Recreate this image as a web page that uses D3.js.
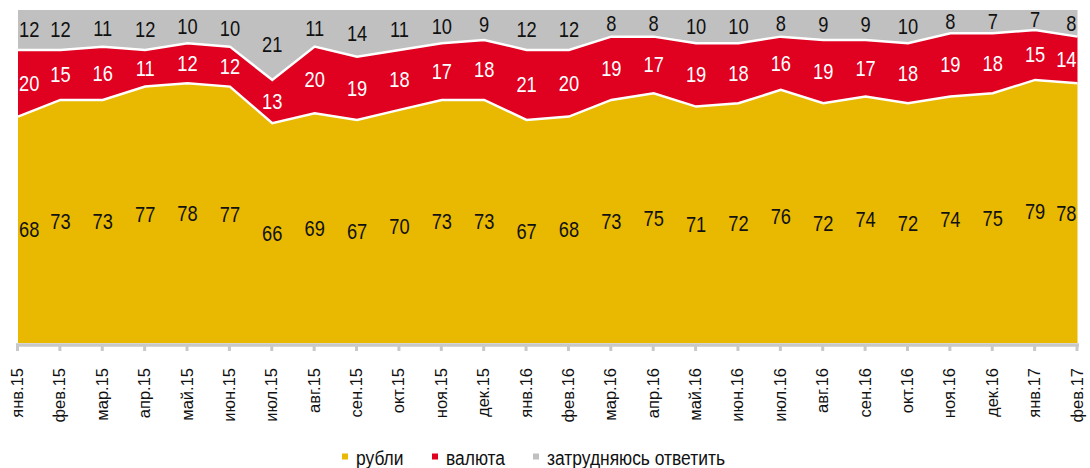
<!DOCTYPE html>
<html><head><meta charset="utf-8">
<script src="https://cdn.jsdelivr.net/npm/d3@7"></script>
<style>
body{margin:0;background:#fff;}
svg{display:block;}
.lbl{font-family:"Liberation Sans",Arial,sans-serif;font-size:21.5px;}
.ax{font-family:"Liberation Sans",Arial,sans-serif;font-size:16.5px;fill:#111;}
.leg{font-family:"Liberation Sans",Arial,sans-serif;font-size:21px;fill:#111;}
</style></head>
<body>
<svg id="c" width="1090" height="468"></svg>
<script>
const months = ["янв.15","фев.15","мар.15","апр.15","май.15","июн.15","июл.15","авг.15","сен.15","окт.15","ноя.15","дек.15","янв.16","фев.16","мар.16","апр.16","май.16","июн.16","июл.16","авг.16","сен.16","окт.16","ноя.16","дек.16","янв.17","фев.17"];
const rubles = [68,73,73,77,78,77,66,69,67,70,73,73,67,68,73,75,71,72,76,72,74,72,74,75,79,78];
const currency = [20,15,16,11,12,12,13,20,19,18,17,18,21,20,19,17,19,18,16,19,17,18,19,18,15,14];
const unsure = [12,12,11,12,10,10,21,11,14,11,10,9,12,12,8,8,10,10,8,9,9,10,8,7,7,8];
const seriesNames = ["рубли","валюта","затрудняюсь ответить"];
const colors = ["#E8B900","#E0001F","#C0C0C0"];

const svg = d3.select("#c");
const x = d3.scalePoint().domain(months).range([18, 1077.5]);
const y = d3.scaleLinear().domain([0,100]).range([343, 10]);
const NX = 0.85; // horizontal condensing for narrow look

const data = months.map((m,i)=>({m, r:rubles[i], v:currency[i], u:unsure[i]}));
const layers = [
  {lo:d=>0, hi:d=>d.r, val:d=>d.r, c:colors[0], tc:"#111"},
  {lo:d=>d.r, hi:d=>d.r+d.v, val:d=>d.v, c:colors[1], tc:"#fff"},
  {lo:d=>d.r+d.v, hi:d=>100, val:d=>d.u, c:colors[2], tc:"#111"}
];
layers.forEach(L=>{
  svg.append("path")
    .attr("fill",L.c)
    .attr("d", d3.area().x(d=>x(d.m)).y0(d=>y(L.lo(d))).y1(d=>y(L.hi(d)))(data));
});
// white separators
[d=>d.r, d=>d.r+d.v].forEach(f=>{
  svg.append("path").attr("fill","none").attr("stroke","#fff").attr("stroke-width",2.5)
    .attr("d", d3.line().x(d=>x(d.m)).y(d=>y(f(d)))(data));
});
// labels
const last = data.length-1;
layers.forEach(L=>{
  svg.append("g").selectAll("text").data(data).join("text")
    .attr("class","lbl")
    .attr("fill",L.tc)
    .attr("transform",(d,i)=>{
      const px = i===0 ? x(d.m)+1 : i===last ? x(d.m)-1 : x(d.m);
      const py = (y(L.lo(d))+y(L.hi(d)))/2 + 7.5;
      return `translate(${px},${py}) scale(${NX},1)`;
    })
    .attr("text-anchor",(d,i)=> i===0 ? "start" : i===last ? "end" : "middle")
    .text(d=>L.val(d));
});
// axis
const ax = svg.append("g").attr("transform","translate(0,345)");
ax.append("line").attr("x1",16).attr("x2",1079).attr("y1",0).attr("y2",0)
  .attr("stroke","#C8C8C8").attr("stroke-width",3.5);
ax.selectAll("line.t").data(months).join("line").attr("class","t")
  .attr("x1",d=>x(d)-0.5).attr("x2",d=>x(d)-0.5).attr("y1",0).attr("y2",6)
  .attr("stroke","#C8C8C8").attr("stroke-width",3);
ax.selectAll("text").data(months).join("text").attr("class","ax")
  .attr("transform",d=>`translate(${x(d)+5},23) rotate(-90)`)
  .attr("text-anchor","end")
  .text(d=>d);
// legend
const legX = [342, 432, 533];
const leg = svg.append("g");
seriesNames.forEach((n,i)=>{
  leg.append("rect").attr("x",legX[i]).attr("y",453.5).attr("width",6).attr("height",6).attr("fill",colors[i]);
  leg.append("text").attr("class","leg")
    .attr("transform",`translate(${legX[i]+14},465) scale(0.83,1)`).text(n);
});
</script>
</body></html>
